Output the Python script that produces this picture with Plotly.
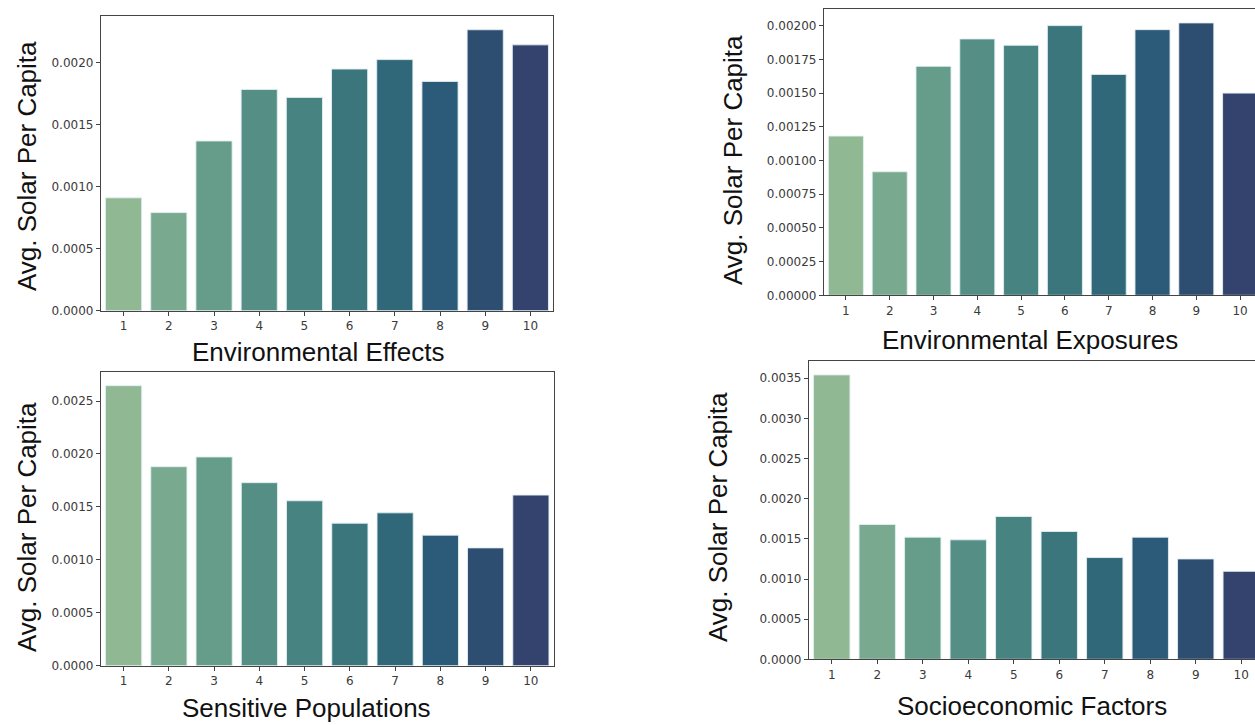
import plotly.graph_objects as go

categories = ["1", "2", "3", "4", "5", "6", "7", "8", "9", "10"]
env_effects = [0.000911, 0.000792, 0.00137, 0.001786, 0.001722, 0.001951, 0.002027, 0.001851, 0.002268, 0.002146]
env_exposures = [0.001182, 0.000917, 0.00170, 0.001903, 0.001856, 0.002002, 0.00164, 0.001972, 0.002022, 0.001501]
sensitive_pop = [0.002645, 0.00188, 0.001972, 0.001729, 0.001558, 0.001346, 0.001444, 0.001233, 0.001113, 0.001612]
socioeconomic = [0.003542, 0.001679, 0.001521, 0.001488, 0.001779, 0.001592, 0.001267, 0.001521, 0.00125, 0.001096]

palette = ["#8fb893", "#79aa8f", "#659c8a", "#558e85", "#478381",
           "#3b767d", "#306879", "#2b5b78", "#2d4d71", "#33436d"]

W, H = 1255, 725

def px_x(v):
    return v / W

def px_y(v):
    return 1 - v / H

# panel geometry (pixels): left, right(px, may exceed width), top, bottom
panels = [
    dict(name="Environmental Effects", vals=env_effects, l=101, r=553, t=15.7, b=310.7,
         fmt=".4f", dtick=0.0005, xt=(318, 352), yt=(27, 166), mirror=True),
    dict(name="Environmental Exposures", vals=env_exposures, l=824, r=1262, t=9.3, b=295.3,
         fmt=".5f", dtick=0.00025, xt=(1030, 340), yt=(733, 160), mirror=False),
    dict(name="Sensitive Populations", vals=sensitive_pop, l=101, r=553.5, t=371.7, b=665.7,
         fmt=".4f", dtick=0.0005, xt=(306, 708), yt=(27, 527), mirror=True),
    dict(name="Socioeconomic Factors", vals=socioeconomic, l=809, r=1264, t=360.7, b=659.3,
         fmt=".4f", dtick=0.0005, xt=(1032, 706), yt=(718, 517), mirror=False),
]

fig = go.Figure()
annotations = []
layout = dict(
    width=W, height=H, margin=dict(l=0, r=0, t=0, b=0, autoexpand=False),
    paper_bgcolor="white", plot_bgcolor="white", showlegend=False,
    bargap=0.2,
)

tick_font = dict(family="DejaVu Sans", size=12, color="#3a3a3a")
title_font = dict(family="Liberation Sans, Arial", size=26, color="#111111")

for i, p in enumerate(panels):
    idx = "" if i == 0 else str(i + 1)
    xa, ya = "x" + idx, "y" + idx
    fig.add_trace(go.Bar(
        x=categories, y=p["vals"], xaxis=xa, yaxis=ya,
        marker=dict(color=palette, line=dict(color="rgba(225,238,242,0.9)", width=1)),
        hoverinfo="x+y",
    ))
    slot = (p["r"] - p["l"]) / 10.0
    right_px = min(p["r"], W)
    xr_end = 9.5 - (p["r"] - right_px) / slot
    ymax = max(p["vals"]) * 1.05
    layout["xaxis" + idx] = dict(
        domain=[px_x(p["l"]), px_x(right_px)], anchor=ya, type="category",
        range=[-0.5, xr_end], showline=True, linecolor="#444444", linewidth=1.3,
        mirror=True, ticks="outside", ticklen=4, tickwidth=1, tickcolor="#444444",
        tickfont=tick_font, showgrid=False, zeroline=False, fixedrange=True,
        automargin=False,
    )
    layout["yaxis" + idx] = dict(
        domain=[px_y(p["b"]), px_y(p["t"])], anchor=xa,
        range=[0, ymax], showline=True, linecolor="#444444", linewidth=1.3,
        mirror=p["mirror"], ticks="outside", ticklen=4, tickwidth=1, tickcolor="#444444",
        tickfont=tick_font, tickformat=p["fmt"], dtick=p["dtick"], tick0=0,
        showgrid=False, zeroline=False, fixedrange=True, automargin=False,
    )
    annotations.append(dict(
        text=p["name"], xref="paper", yref="paper",
        x=px_x(p["xt"][0]), y=px_y(p["xt"][1]), xanchor="center", yanchor="middle",
        showarrow=False, font=title_font,
    ))
    annotations.append(dict(
        text="Avg. Solar Per Capita", xref="paper", yref="paper",
        x=px_x(p["yt"][0]), y=px_y(p["yt"][1]), xanchor="center", yanchor="middle",
        textangle=-90, showarrow=False, font=title_font,
    ))

layout["annotations"] = annotations
fig.update_layout(**layout)
fig.write_html(
    "out.html",
    config={"displayModeBar": False},
    post_script="document.body.style.margin='0px';document.body.style.overflow='hidden';",
)
